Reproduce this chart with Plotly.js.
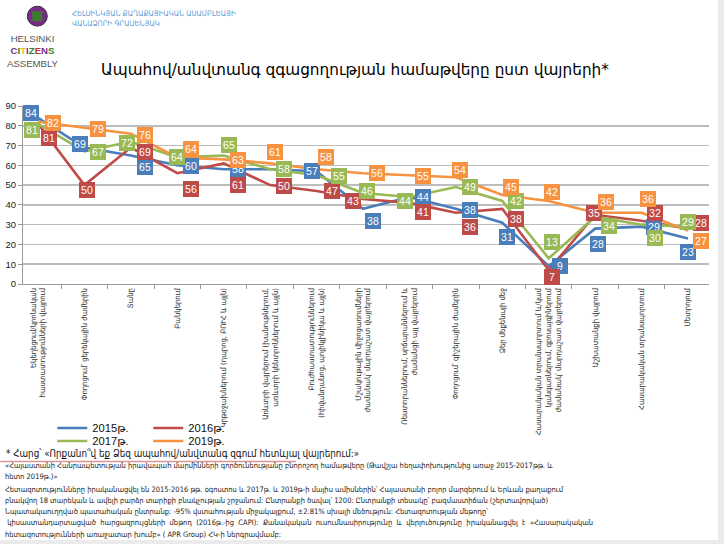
<!DOCTYPE html>
<html>
<head>
<meta charset="utf-8">
<script src="https://cdn.plot.ly/plotly-3.0.1.min.js"></script>
<style>
  html, body { margin:0; padding:0; background:#ebebeb; }
  #chart { width:718px; height:540px; background:#ffffff; }
</style>
</head>
<body>
<div id="chart"></div>
<script>
// ---------- data ----------
const categories = [
  "Եկեղեցում/կրոնական<br>հաստատությունների վայրում",
  "Փողոցում՝ ցերեկային ժամերին",
  "Տանը",
  "Բանկերում",
  "Կրթօջախներում (դպրոց, ԲՈՒՀ և այլն)",
  "Առևտրի վայրերում (խանութներում,<br>առևտրի կենտրոններում և այլն)",
  "Բուժհաստատություններում<br>(հիվանդանոց, պոլիկլինիկա և այլն)",
  "Մշակութային միջոցառումների<br>ժամանակ՝ մարդաշատ վայրերում",
  "Ռեստորաններում, սրճարաններում և<br>ժամանցի այլ վայրերում",
  "Փողոցում՝ գիշերային ժամերին",
  "Ձեր մեքենայի մեջ",
  "Հասարակական տրանսպորտում և/կամ<br>կանգառներում, զբոսայգիներում<br>ժամանակ՝ մարդաշատ վայրերում",
  "Աշխատանքի վայրում",
  "Հասարակական տրանսպորտում",
  "Մետրոյում"
];
const seriesNames = ["2015թ.", "2016թ.", "2017թ.", "2019թ."];
const values2015 = [84, 69, 65, 60, 58, 58, 57, 38, 44, 38, 31, 9, 28, 29, 23];
const values2016 = [81, 50, 69, 56, 61, 50, 47, 43, 41, 36, 38, 7, 35, 32, 28];
const values2017 = [81, 67, 72, 64, 65, 58, 55, 46, 44, 49, 42, 13, 34, 30, 29];
const values2019 = [82, 79, 76, 64, 63, 61, 58, 56, 55, 54, 45, 42, 36, 36, 27];
const yTicks = [0, 10, 20, 30, 40, 50, 60, 70, 80, 90];

// ---------- label placement offsets (px, dx right / dy down) ----------
const off2015 = [[-7,-5],[-4,-4],[14,12],[14,1],[14,0],[14,0],[-5,0],[10,12],[14,0],[14,1],[5,14],[11,0],[3,15],[12,0],[0,13]];
const off2016 = [[11,14],[3,5],[14,4],[14,16],[14,22],[14,1],[15,0],[-10,2],[14,9],[14,14],[14,10],[3,7],[-1,-2],[13,-8],[13,-6]];
const off2017 = [[-6,6],[14,1],[-4,1],[0,0],[5,-10],[14,0],[22,1],[4,-2],[-4,4],[14,0],[14,0],[3,-16],[14,9],[13,13],[0,-5]];
const off2019 = [[15,1],[14,1],[14,1],[14,-8],[14,1],[5,-11],[9,-12],[14,0],[14,1],[4,-7],[9,-8],[3,-9],[11,-11],[6,-14],[13,10]];

// ---------- styles ----------
const colors = ["#4a7ebb", "#be4b48", "#98b954", "#f69240"];
const W = 718, H = 540;
const M = {l: 22.7, r: 8.7, t: 106, b: 255.7};
const PW = W - M.l - M.r, PH = H - M.t - M.b;
const X = px => (px - M.l) / PW;
const Y = py => (H - M.b - py) / PH;
const FONT = "Liberation Sans, DejaVu Sans, sans-serif";
const ARM = "DejaVu Sans, sans-serif";
const ARMC = "DejaVu Sans Condensed, DejaVu Sans, sans-serif";

const series = [values2015, values2016, values2017, values2019];
const offsets = [off2015, off2016, off2017, off2019];

const traces = series.map((vals, i) => ({
  type: "scatter", mode: "lines",
  x: categories, y: vals, name: seriesNames[i],
  line: {color: colors[i], width: 2.6},
  legend: i < 2 ? "legend" : "legend2",
  hoverinfo: "skip"
}));

const annotations = [];
series.forEach((vals, s) => {
  vals.forEach((v, k) => {
    annotations.push({
      x: categories[k], y: v, xref: "x", yref: "y",
      text: String(v), showarrow: false,
      xshift: offsets[s][k][0], yshift: -offsets[s][k][1],
      font: {family: FONT, size: 10.5, color: "#ffffff"},
      bgcolor: colors[s], bordercolor: colors[s], borderwidth: 1, borderpad: 0,
      width: 14, height: 14
    });
  });
});

function txt(text, px, py, size, color, family, anchor, extra) {
  return Object.assign({
    x: X(px), y: Y(py), xref: "paper", yref: "paper", text: text,
    showarrow: false, xanchor: anchor || "left", yanchor: "middle", align: "left",
    font: {family: family || ARM, size: size, color: color}
  }, extra || {});
}

// header
annotations.push(txt("ՀԵԼՍԻՆԿՅԱՆ ՔԱՂԱՔԱՑԻԱԿԱՆ ԱՍԱՄԲԼԵԱՅԻ<br>ՎԱՆԱՁՈՐԻ ԳՐԱՍԵՆՅԱԿ", 71, 18.5, 7.6, "#5b9bd5", ARMC, "left", {borderpad: 0}));
// logo text (single block)
annotations.push(txt("HELSINKI<br><b><span style='color:#7b2a8c'>C</span><span style='color:#3a7d2c'>I</span><span style='color:#e8c020'>T</span><span style='color:#7b2a8c'>I</span><span style='color:#3a7d2c'>Z</span><span style='color:#c0392b'>E</span><span style='color:#7b2a8c'>N</span><span style='color:#3a7d2c'>S</span></b><br>ASSEMBLY",
  33, 51, 9.6, "#555555", FONT, "center", {align: "center", borderpad: 0}));

// question & notes
annotations.push(txt("* Հարց՝ «Որքանո՞վ եք Ձեզ ապահով/անվտանգ զգում հետևյալ վայրերում:»", 4, 454, 9.8, "#111111", ARMC));
const notes = [
  "«Հայաստանի Հանրապետության իրավապահ մարմինների գործունեությանը բնորոշող համաթվերը (Թավշյա հեղափոխությունից առաջ 2015-2017թթ. և",
  "հետո 2019թ.)»",
  "Հետազոտությունները իրականացվել են 2015-2016 թթ. օգոստոս և 2017թ. և 2019թ-ի մայիս ամիսներին՝ Հայաստանի բոլոր մարզերում և Երևան քաղաքում",
  "բնակվող 18 տարեկան և ավելի բարձր տարիքի բնակչության շրջանում: Ընտրանքի ծավալ՝ 1200: Ընտրանքի տեսակը՝ բազմաստիճան (շերտավորված)",
  "Նպատակաուղղված պատահական ընտրանք: -95% վստահության միջակայքում, ±2.81% սխալի մեծություն: Հետազոտության մեթոդը՝",
  " կիսաստանդարտացված  հարցազրույցների  մեթոդ  (2016թ.-ից  CAPI):  Քանակական  ուսումնասիրությունը  և  վերլուծությունը  իրականացվել  է  «Հասարակական",
  "հետազոտությունների առաջատար խումբ» ( APR Group) ՀԿ-ի ներգրավմամբ:"
];
const noteY = [466, 477, 490, 501, 512, 523, 535];
notes.forEach((n, i) => annotations.push(txt(n, 4, noteY[i], 7.5, "#222222", ARMC, "left", {borderpad: 0})));

const shapes = [
  {type: "line", xref: "paper", yref: "paper", x0: X(0), x1: X(296), y0: Y(462), y1: Y(462),
   line: {color: "#d99694", width: 1.5}},
  {type: "circle", xref: "paper", yref: "paper", x0: X(27), x1: X(47), y0: Y(6), y1: Y(26),
   fillcolor: "#7b2a8c", line: {color: "#333", width: 1}},
  {type: "rect", xref: "paper", yref: "paper", x0: X(32), x1: X(42), y0: Y(11), y1: Y(21),
   fillcolor: "#3a7d2c", line: {width: 0}}
];

const legendCommon = {
  orientation: "h", xanchor: "left", yanchor: "top",
  entrywidth: 51, entrywidthmode: "pixels",
  font: {family: FONT, size: 11.2, color: "#111111"},
  bgcolor: "rgba(0,0,0,0)", tracegroupgap: 0, itemwidth: 30
};

const layout = {
  width: W, height: H,
  margin: M,
  paper_bgcolor: "#ffffff", plot_bgcolor: "#ffffff",
  showlegend: true,
  title: {
    text: "Ապահով/անվտանգ զգացողության համաթվերը ըստ վայրերի*",
    font: {family: ARM, size: 15.3, color: "#000000"},
    x: 355 / W, xanchor: "center", y: 1 - 70 / H, yanchor: "middle", yref: "container"
  },
  xaxis: {
    type: "category", tickangle: -90,
    tickfont: {family: ARMC, size: 7.6, color: "#333333"},
    showgrid: false, showline: true, linecolor: "#9a9a9a", linewidth: 1,
    ticks: "outside", tickson: "boundaries", ticklen: 4, tickcolor: "#9a9a9a",
    fixedrange: true
  },
  yaxis: {
    range: [0, 90], tickvals: yTicks, ticktext: yTicks.map(String),
    tickfont: {family: FONT, size: 9.5, color: "#222222"},
    showgrid: true, gridcolor: "#bdbdbd", gridwidth: 1.6,
    zeroline: false, showline: true, linecolor: "#9a9a9a", linewidth: 1,
    ticks: "outside", ticklen: 4, tickcolor: "#9a9a9a",
    fixedrange: true
  },
  legend: Object.assign({x: X(52), y: Y(414)}, legendCommon),
  legend2: Object.assign({x: X(52), y: Y(427)}, legendCommon),
  annotations: annotations,
  shapes: shapes
};

Plotly.newPlot("chart", traces, layout, {displayModeBar: false, staticPlot: true});
</script>
</body>
</html>
